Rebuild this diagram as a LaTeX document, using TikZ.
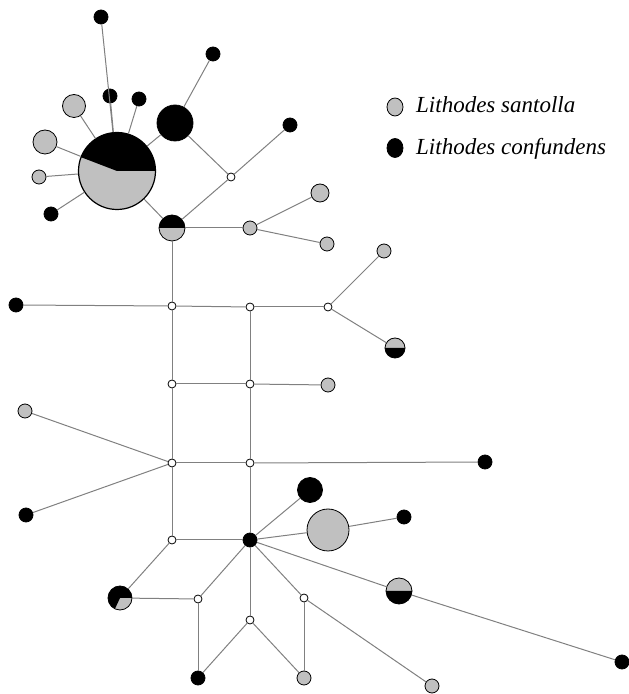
\documentclass[tikz,border=0pt]{standalone}
\usepackage{fontspec}
\setmainfont{Liberation Serif}
\usepackage{tikz}
\usetikzlibrary{shapes.geometric}
\definecolor{santgrey}{HTML}{C0C0C0}
\definecolor{linkgrey}{HTML}{808080}

\begin{document}
\begin{tikzpicture}[
    x=1pt, y=1pt,
    every node/.style={inner sep=0pt},
    hap/.style={draw, circle, line width=0.8pt, minimum size=#1},
    hap/.default=14pt,
    sant/.style={hap=#1, fill=santgrey},
    sant/.default=14pt,
    conf/.style={hap=#1, fill=black},
    conf/.default=14pt,
    mv/.style={draw, circle, fill=white, line width=0.8pt, minimum size=8pt},
    split/.style n args={3}{hap=#1, fill=santgrey,
        path picture={\fill[black] (path picture bounding box.center)
            -- ++(#2:60pt) arc[start angle=#2, end angle=#3, radius=60pt] -- cycle;}},
    link/.style={draw=linkgrey, line width=1pt},
    keytext/.style={font=\fontsize{23}{26}\selectfont\itshape, anchor=base west}
]
\useasboundingbox (0,0) rectangle (629,694);

\node[conf]                   (c1)  at (101, 677) {};
\node[conf]                   (c2)  at (213, 640) {};
\node[conf]                   (c3)  at (110, 598) {};
\node[conf]                   (c4)  at (139, 595) {};
\node[sant=23pt]              (s1)  at ( 74, 588) {};
\node[conf=36pt]              (c5)  at (175, 571) {};
\node[conf]                   (c6)  at (290, 569) {};
\node[sant=24pt]              (s2)  at ( 45, 552) {};
\node[split={77pt}{0}{159}, line width=1.2pt] (p1) at (117, 523) {};
\node[sant]                   (s3)  at ( 39, 517) {};
\node[conf]                   (c7)  at ( 51, 480) {};
\node[mv]                     (m1)  at (231, 517) {};
\node[split={26pt}{0}{180}]   (p2)  at (172, 466) {};
\node[sant=18pt]              (s4)  at (320, 501) {};
\node[sant]                   (s5)  at (250, 466) {};
\node[sant]                   (s6)  at (327, 450) {};
\node[sant]                   (s7)  at (384, 443) {};
\node[conf]                   (c8)  at ( 16, 389) {};
\node[mv]                     (m2)  at (172, 388) {};
\node[mv]                     (m3)  at (250, 387) {};
\node[mv]                     (m4)  at (328, 387) {};
\node[split={20pt}{180}{360}] (p3)  at (395, 346) {};
\node[mv]                     (m5)  at (172, 310) {};
\node[mv]                     (m6)  at (250, 310) {};
\node[sant]                   (s8)  at (328, 309) {};
\node[sant]                   (s9)  at ( 25, 283) {};
\node[mv]                     (m7)  at (172, 231) {};
\node[mv]                     (m8)  at (250, 231) {};
\node[conf]                   (c9)  at (485, 232) {};
\node[conf=25pt]              (c10) at (310, 204) {};
\node[conf]                   (c11) at ( 26, 179) {};
\node[conf]                   (c12) at (404, 177) {};
\node[sant=42pt]              (s10) at (328, 164) {};
\node[mv]                     (m9)  at (172, 154) {};
\node[conf]                   (c13) at (250, 154) {};
\node[split={26pt}{180}{360}] (p4)  at (399, 103) {};
\node[split={24pt}{0}{245}]   (p5)  at (120,  96) {};
\node[mv]                     (m10) at (198,  95) {};
\node[mv]                     (m11) at (304,  96) {};
\node[mv]                     (m12) at (250,  74) {};
\node[conf]                   (c14) at (198,  16) {};
\node[sant]                   (s11) at (304,  16) {};
\node[sant]                   (s12) at (432,   8) {};
\node[conf]                   (c15) at (622,  32) {};

\node[draw, ellipse, fill=santgrey, line width=0.8pt,
      minimum width=16pt, minimum height=18pt] (keyS) at (395, 587) {};
\node[draw, ellipse, fill=black, line width=0.8pt,
      minimum width=16pt, minimum height=19pt] (keyC) at (395, 546) {};
\node[keytext] (keySlab) at (416, 581) {Lithodes santolla};
\node[keytext] (keyClab) at (416, 539) {Lithodes confundens};

\draw[link] (c1) -- (p1);
\draw[link] (c3) -- (p1);
\draw[link] (c4) -- (p1);
\draw[link] (s1) -- (p1);
\draw[link] (s2) -- (p1);
\draw[link] (s3) -- (p1);
\draw[link] (c7) -- (p1);
\draw[link] (c5) -- (p1);
\draw[link] (c5) -- (c2);
\draw[link] (c5) -- (m1);
\draw[link] (c6) -- (m1);
\draw[link] (m1) -- (p2);
\draw[link] (p1) -- (p2);
\draw[link] (p2) -- (s5);
\draw[link] (s5) -- (s4);
\draw[link] (s5) -- (s6);
\draw[link] (p2) -- (m2);
\draw[link] (c8) -- (m2);
\draw[link] (m2) -- (m3);
\draw[link] (m3) -- (m4);
\draw[link] (m4) -- (s7);
\draw[link] (m4) -- (p3);
\draw[link] (m2) -- (m5);
\draw[link] (m5) -- (m7);
\draw[link] (m7) -- (m9);
\draw[link] (m3) -- (m6);
\draw[link] (m6) -- (m8);
\draw[link] (m8) -- (c13);
\draw[link] (m5) -- (m6);
\draw[link] (m6) -- (s8);
\draw[link] (s9) -- (m7);
\draw[link] (c11) -- (m7);
\draw[link] (m7) -- (m8);
\draw[link] (m8) -- (c9);
\draw[link] (m9) -- (c13);
\draw[link] (m9) -- (p5);
\draw[link] (c13) -- (c10);
\draw[link] (c13) -- (s10);
\draw[link] (s10) -- (c12);
\draw[link] (c13) -- (p4);
\draw[link] (p4) -- (c15);
\draw[link] (c13) -- (m10);
\draw[link] (p5) -- (m10);
\draw[link] (m10) -- (c14);
\draw[link] (c13) -- (m12);
\draw[link] (m12) -- (c14);
\draw[link] (m12) -- (s11);
\draw[link] (c13) -- (m11);
\draw[link] (m11) -- (s11);
\draw[link] (m11) -- (s12);
\end{tikzpicture}
\end{document}
